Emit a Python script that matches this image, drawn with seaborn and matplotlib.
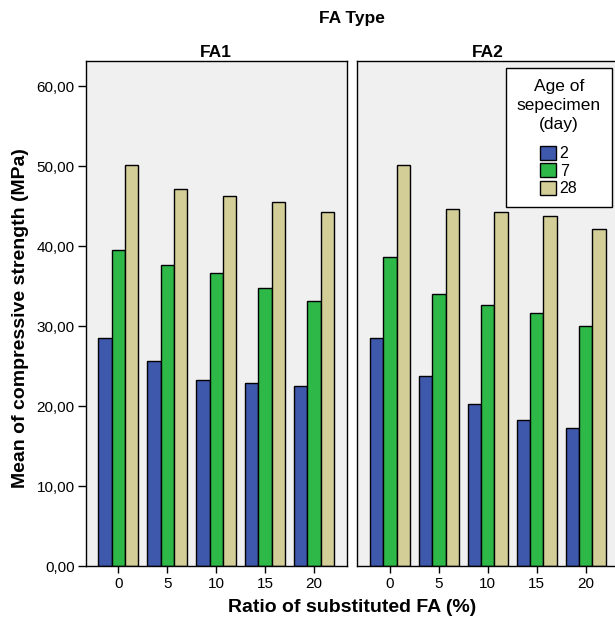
import matplotlib
matplotlib.use("Agg")
import matplotlib.pyplot as plt
from matplotlib.patches import Patch
import seaborn as sns
import pandas as pd

# ---- data ----
ratios = ["0", "5", "10", "15", "20"]
ages = ["2", "7", "28"]
fa_types = ["FA1", "FA2"]
fa1_day2 = [28.5, 25.6, 23.3, 22.9, 22.5]
fa1_day7 = [39.5, 37.6, 36.7, 34.8, 33.2]
fa1_day28 = [50.1, 47.1, 46.3, 45.5, 44.25]
fa2_day2 = [28.5, 23.8, 20.3, 18.25, 17.3]
fa2_day7 = [38.6, 34.0, 32.6, 31.6, 30.0]
fa2_day28 = [50.1, 44.6, 44.3, 43.8, 42.1]
ytick_values = [0, 10, 20, 30, 40, 50, 60]
ytick_labels = ["0,00", "10,00", "20,00", "30,00", "40,00", "50,00", "60,00"]
colors = ["#3E58AC", "#2EB848", "#D3CE97"]

series = {
    "FA1": [fa1_day2, fa1_day7, fa1_day28],
    "FA2": [fa2_day2, fa2_day7, fa2_day28],
}
rows = []
for fa in fa_types:
    for age, vals in zip(ages, series[fa]):
        for r, v in zip(ratios, vals):
            rows.append({"FA": fa, "Age": age, "Ratio": r, "Strength": v})
df = pd.DataFrame(rows)

sns.set_style("white")
plt.rcParams["font.family"] = ["Liberation Sans", "DejaVu Sans"]
plt.rcParams["text.color"] = "black"
plt.rcParams["xtick.color"] = "black"
plt.rcParams["ytick.color"] = "black"
plt.rcParams["axes.labelcolor"] = "black"

fig = plt.figure(figsize=(6.15, 6.35), dpi=100)
W, H = 615.0, 635.0
y_bot, y_top = 566.0, 60.7
panels = [(85.7, 346.7), (357.3, 618.3)]
axes = []
for (x0, x1), fa in zip(panels, fa_types):
    ax = fig.add_axes([x0 / W, (H - y_bot) / H, (x1 - x0) / W, (y_bot - y_top) / H])
    sub = df[df["FA"] == fa]
    sns.barplot(data=sub, x="Ratio", y="Strength", hue="Age", order=ratios,
                hue_order=ages, palette=colors, saturation=1, width=0.82,
                edgecolor="black", linewidth=1.0, legend=False, ax=ax,
                errorbar=None)
    ax.set_facecolor("#F0F0F0")
    ax.set_xlim(-0.665, 4.665)
    ax.set_ylim(0, 63.2)
    for s in ax.spines.values():
        s.set_visible(True)
        s.set_color("black")
        s.set_linewidth(1.0)
    ax.set_xlabel("")
    ax.set_ylabel("")
    ax.tick_params(axis="x", direction="out", length=5, width=1, color="black",
                   labelsize=11, pad=3, bottom=True, labelcolor="black")
    ax.set_title(fa, fontsize=12.5, fontweight="bold", pad=3, color="black")
    axes.append(ax)

ax0, ax1 = axes
ax0.set_yticks(ytick_values)
ax0.set_yticklabels(ytick_labels)
ax0.tick_params(axis="y", direction="out", length=6, width=1, color="black",
                labelsize=11, pad=2, left=True, labelcolor="black")
ax1.set_yticks(ytick_values)
ax1.tick_params(axis="y", left=False, labelleft=False)

handles = [Patch(facecolor=c, edgecolor="black", linewidth=1.0) for c in colors]
leg = ax1.legend(handles, ages, title="Age of\nsepecimen\n(day)",
                 loc="upper left",
                 bbox_to_anchor=((505.7 - 357.3) / 261.0, 1 - (68.3 - 60.7) / 505.3),
                 fontsize=11.5, title_fontsize=12.5, frameon=True, fancybox=False,
                 framealpha=1, handlelength=1.0, handleheight=1.0,
                 handletextpad=0.2, labelspacing=0.12, borderpad=0.7,
                 borderaxespad=0)
leg.get_frame().set_edgecolor("black")
leg.get_frame().set_linewidth(1.0)
leg.get_frame().set_facecolor("white")
leg.get_title().set_multialignment("center")
leg.get_title().set_linespacing(1.3)
leg.get_title().set_color("black")
for t in leg.get_texts():
    t.set_color("black")
leg._legend_box.align = "center"
leg._legend_box.sep = 10

fig.text(352 / W, 1 - 18 / H, "FA Type", ha="center", va="center",
         fontsize=12.5, fontweight="bold", color="black")
fig.text(352 / W, 1 - 608 / H, "Ratio of substituted FA (%)", ha="center",
         va="center", fontsize=14, fontweight="bold", color="black")
fig.text(21 / W, 1 - 318 / H, "Mean of compressive strength (MPa)", ha="center",
         va="center", rotation=90, fontsize=14, fontweight="bold", color="black")

fig.savefig("out.png", dpi=100)
